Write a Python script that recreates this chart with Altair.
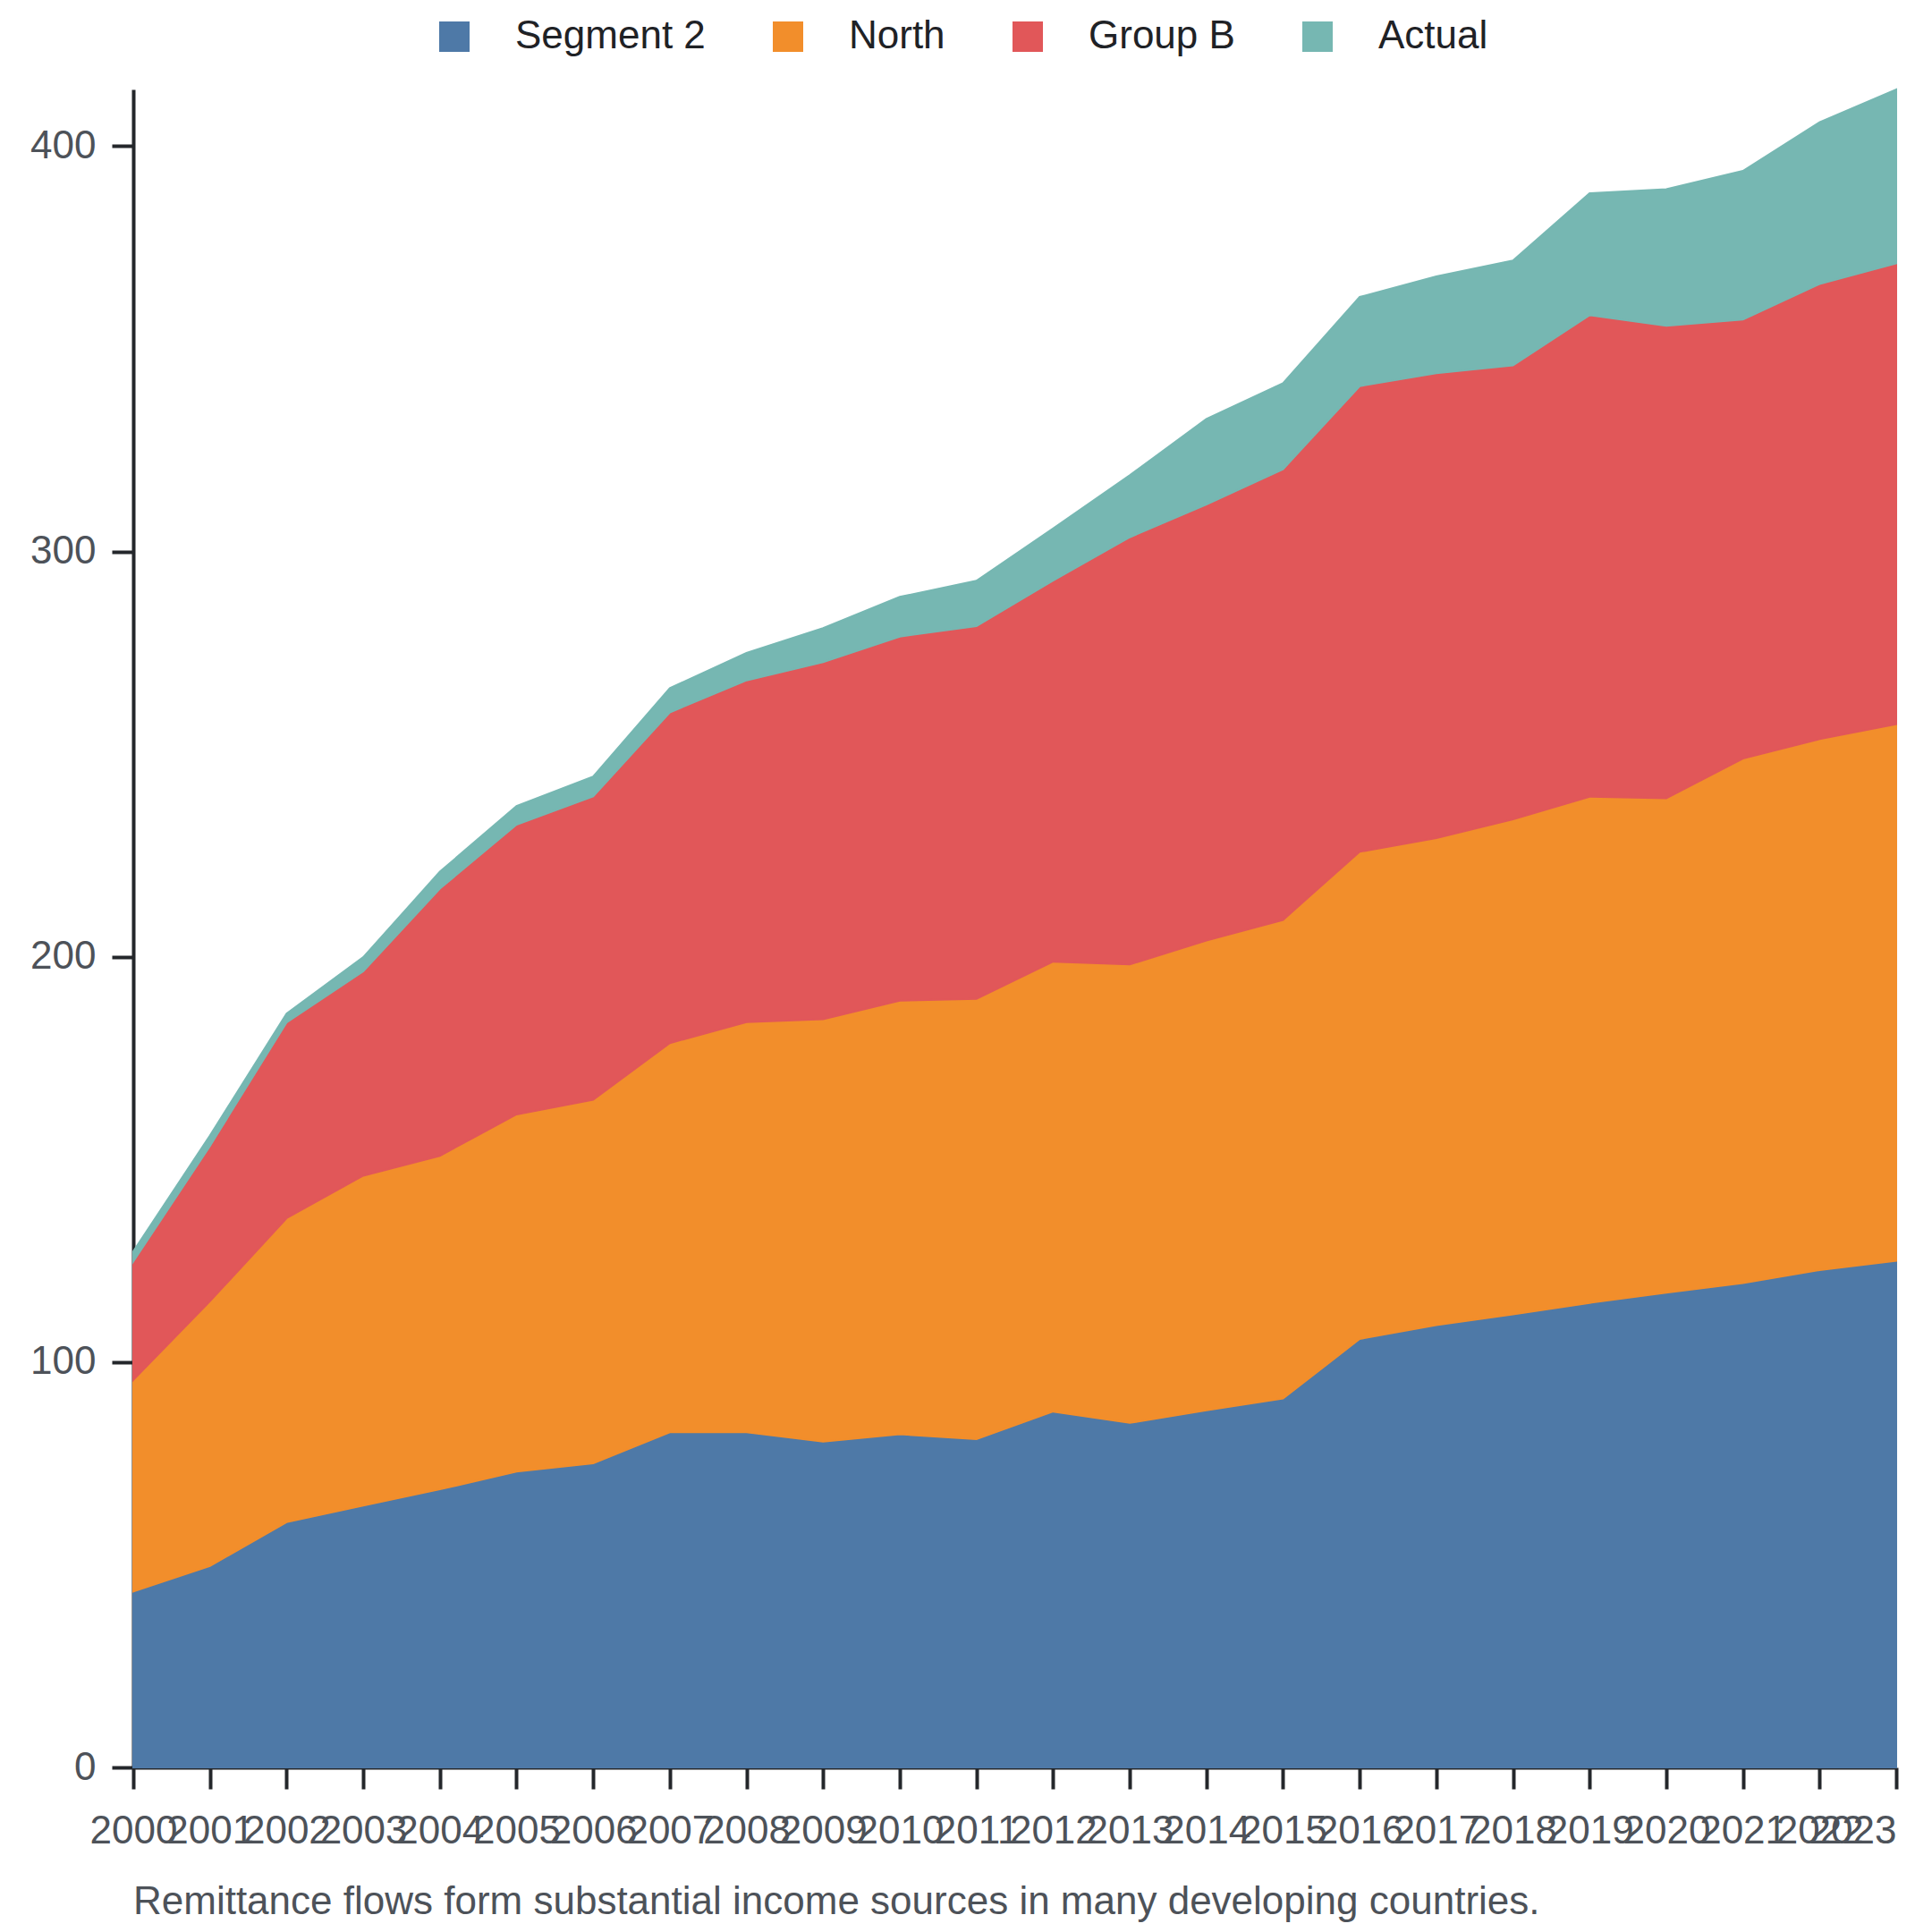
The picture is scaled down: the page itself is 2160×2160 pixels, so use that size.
import altair as alt
import pandas as pd

years = list(range(2000, 2024))
series_names = ["Segment 2", "North", "Group B", "Actual"]
series_colors = ["#4e79a7", "#f28e2b", "#e15759", "#76b7b2"]

segment2 = [43.4, 49.7, 60.5, 64.6, 68.6, 73.0, 75.0, 82.7, 82.7, 80.4, 82.2, 81.0,
            87.8, 85.0, 88.1, 91.0, 105.7, 109.1, 111.8, 114.6, 117.1, 119.5, 122.7, 125.0]
north = [52.2, 65.3, 75.0, 81.4, 82.3, 88.1, 89.7, 96.0, 101.2, 104.2, 107.0, 108.6,
         111.0, 113.1, 115.9, 118.1, 120.2, 120.2, 122.1, 124.9, 122.0, 129.4, 131.0, 132.4]
group_b = [29.2, 38.3, 48.3, 50.4, 65.9, 71.5, 74.9, 81.6, 84.3, 88.1, 89.8, 92.0,
           94.0, 105.4, 107.6, 111.2, 114.9, 114.7, 112.0, 118.8, 116.6, 108.3, 112.3, 113.7]
actual = [2.5, 2.6, 2.2, 3.5, 4.2, 4.6, 4.9, 6.0, 6.8, 8.4, 9.8, 11.2,
          12.9, 15.3, 21.1, 21.2, 22.0, 23.9, 25.9, 30.1, 33.7, 36.7, 39.9, 42.9]

y_ticks = [0, 100, 200, 300, 400]
caption = "Remittance flows form substantial income sources in many developing countries."

rows = []
for idx, (name, vals) in enumerate(zip(series_names, [segment2, north, group_b, actual])):
    for yr, v in zip(years, vals):
        rows.append({"year": yr, "series": name, "value": v, "order": idx})
df = pd.DataFrame(rows)

FONT = "Liberation Sans"
LABEL_COLOR = "#4d5259"
AXIS_COLOR = "#24272b"

chart = (
    alt.Chart(df)
    .mark_area(strokeWidth=2, opacity=1)
    .encode(
        x=alt.X(
            "year:Q",
            scale=alt.Scale(domain=[years[0], years[-1]], nice=False, zero=False),
            axis=alt.Axis(
                title=None,
                values=years,
                format="d",
                labelFlush=False,
                labelOverlap=False,
                labelAlign={"condition": {"test": "datum.value == 2023", "value": "right"}, "value": "center"},
                labelPadding=25,
                tickSize=24,
            ),
        ),
        y=alt.Y(
            "value:Q",
            stack="zero",
            scale=alt.Scale(nice=False),
            axis=alt.Axis(title=None, values=y_ticks, labelPadding=18, tickSize=24),
        ),
        color=alt.Color(
            "series:N",
            sort=series_names,
            scale=alt.Scale(domain=series_names, range=series_colors),
            legend=alt.Legend(
                title=None,
                orient="none",
                direction="horizontal",
                legendX=337,
                legendY=-81,
                padding=0,
                symbolType="square",
                symbolSize=1156,
                symbolStrokeWidth=0,
                symbolOpacity=1,
                labelOffset=46,
                columnPadding=70,
                labelFontSize=44,
                labelLimit=0,
                labelFont=FONT,
                labelColor="#1f2226",
            ),
        ),
        stroke=alt.Stroke(
            "series:N",
            sort=series_names,
            scale=alt.Scale(domain=series_names, range=series_colors),
            legend=None,
        ),
        order=alt.Order("order:Q", sort="ascending"),
    )
    .properties(
        width=1971,
        height=1876,
        autosize=alt.AutoSizeParams(type="none"),
        padding={"left": 141, "top": 92, "right": 30, "bottom": 182},
        title=alt.TitleParams(
            caption,
            orient="bottom",
            anchor="start",
            frame="group",
            fontSize=44,
            font=FONT,
            fontWeight="normal",
            color=LABEL_COLOR,
            offset=36,
        ),
    )
    .configure_view(stroke=None)
    .configure_axis(
        grid=False,
        labelFont=FONT,
        labelFontSize=44,
        labelColor=LABEL_COLOR,
        domainColor=AXIS_COLOR,
        domainWidth=4,
        tickColor=AXIS_COLOR,
        tickWidth=4,
    )
)

chart.save("out.html", embed_options={"renderer": "svg", "actions": False})
